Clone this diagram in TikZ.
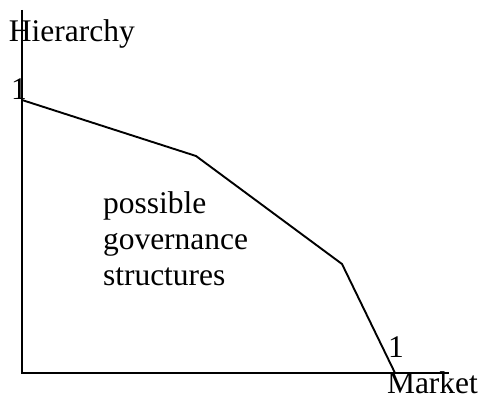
\documentclass[tikz,border=0pt]{standalone}
\usepackage{fontspec}
\setmainfont{Liberation Serif}
\begin{document}
\begin{tikzpicture}[x=1pt,y=1pt,
  lbl/.style={inner sep=0pt, outer sep=0pt, font=\fontsize{31.5}{36}\selectfont},
  axis/.style={line width=1.9pt},
  curve/.style={line width=1.9pt, line join=miter}]
\useasboundingbox (0,0) rectangle (482,401);
% axes
\coordinate (top) at (22,391);
\coordinate (origin) at (22,28);
\coordinate (right) at (449,28);
\draw[axis] (top) -- (origin) -- (right);
% frontier
\coordinate (p0) at (22,301);
\coordinate (p1) at (196,245);
\coordinate (p2) at (342,137);
\coordinate (p3) at (395,28);
\draw[curve] (p0) -- (p1) -- (p2) -- (p3);
% labels
\node[lbl, anchor=base west] (hier) at (9,359) {Hierarchy};
\node[lbl, anchor=base west] (one1) at (11,301) {1};
\node[lbl, anchor=base west] (one2) at (388,43) {1};
\node[lbl, anchor=base west] (market) at (387,7) {Market};
\node[lbl, anchor=north west, align=left] (region) at (103,209) {possible\\governance\\structures};
\end{tikzpicture}
\end{document}
